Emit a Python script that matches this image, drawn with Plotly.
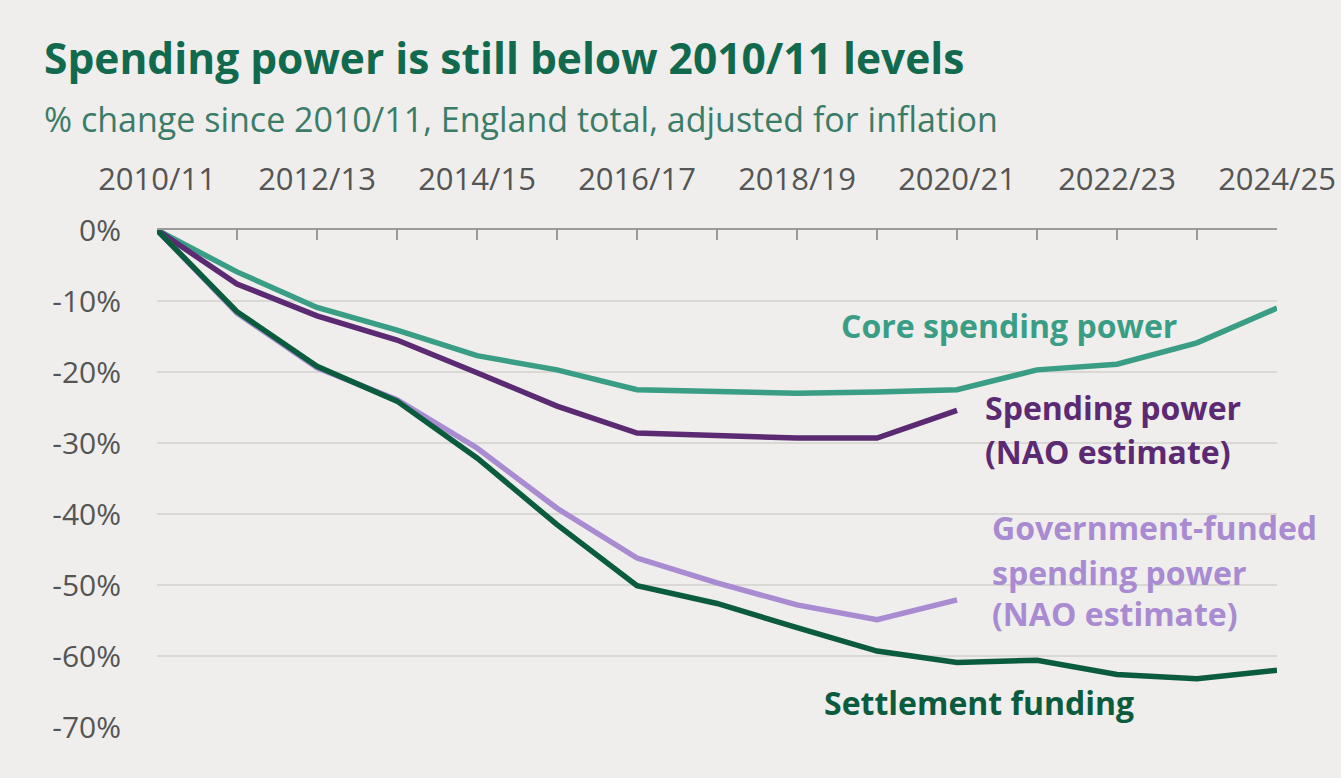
import plotly.graph_objects as go

# Financial years on the horizontal axis
years = ["2010/11", "2011/12", "2012/13", "2013/14", "2014/15", "2015/16", "2016/17",
         "2017/18", "2018/19", "2019/20", "2020/21", "2021/22", "2022/23", "2023/24", "2024/25"]

# % change since 2010/11, real terms
core_spending_power = [0, -5.9, -10.9, -14.1, -17.7, -19.7, -22.5, -22.8, -23.0, -22.8,
                       -22.5, -19.7, -18.9, -15.9, -11.0]
spending_power_nao = [0, -7.6, -12.1, -15.5, -20.1, -24.8, -28.6, -29.0, -29.3, -29.3, -25.4]
gov_funded_nao = [0, -11.7, -19.4, -23.9, -30.7, -39.2, -46.2, -49.7, -52.8, -54.9, -52.1]
settlement_funding = [0, -11.5, -19.2, -24.1, -32.1, -41.5, -50.1, -52.6, -56.0, -59.3,
                      -60.9, -60.6, -62.6, -63.2, -62.0]

y_ticks = [0, -10, -20, -30, -40, -50, -60, -70]

C_CORE = "#3a9d85"
C_NAO = "#5b2a72"
C_GOV = "#a98bd2"
C_SETTLE = "#0b5c3f"
BG = "#efeeec"
FONT = "Open Sans"

idx = list(range(len(years)))

fig = go.Figure()
for vals, col in [(core_spending_power, C_CORE), (spending_power_nao, C_NAO),
                  (gov_funded_nao, C_GOV), (settlement_funding, C_SETTLE)]:
    fig.add_trace(go.Scatter(
        x=idx[:len(vals)], y=vals, mode="lines",
        line=dict(color=col, width=5.5), cliponaxis=False, showlegend=False,
    ))

series_labels = [
    ("Core spending power", 10.65, -13.4, "center", C_CORE),
    ("Spending power", 10.33, -25.0, "left", C_NAO),
    ("(NAO estimate)", 10.33, -31.2, "left", C_NAO),
    ("Government-funded", 10.41, -41.9, "left", C_GOV),
    ("spending power", 10.41, -48.2, "left", C_GOV),
    ("(NAO estimate)", 10.41, -54.0, "left", C_GOV),
    ("Settlement funding", 10.28, -66.6, "center", C_SETTLE),
]
for text, x, y, anchor, col in series_labels:
    fig.add_annotation(x=x, y=y, xref="x", yref="y", text=f"<b>{text}</b>",
                       showarrow=False, xanchor=anchor, yanchor="middle",
                       font=dict(family=FONT, size=32, color=col))

# Title and subtitle
fig.add_annotation(x=-0.1027, y=1.347, xref="paper", yref="paper",
                   text="<b>Spending power is still below 2010/11 levels</b>",
                   showarrow=False, xanchor="left", yanchor="middle",
                   font=dict(family=FONT, size=42.5, color="#116a4d"))
fig.add_annotation(x=-0.1027, y=1.2234, xref="paper", yref="paper",
                   text="% change since 2010/11, England total, adjusted for inflation",
                   showarrow=False, xanchor="left", yanchor="middle",
                   font=dict(family=FONT, size=34, color="#3b7c69"))

fig.update_layout(
    width=1341, height=778,
    margin=dict(l=157, r=64, t=230, b=51),
    paper_bgcolor=BG, plot_bgcolor=BG,
    xaxis=dict(
        side="top", range=[0, 14], tickmode="array", tickvals=idx,
        ticktext=[y if i % 2 == 0 else "" for i, y in enumerate(years)],
        ticks="inside", ticklen=10, tickwidth=2, tickcolor="#9a9a9a",
        showline=True, linecolor="#9a9a9a", linewidth=2, mirror=False,
        showgrid=False, zeroline=False, automargin=False,
        tickfont=dict(family=FONT, size=31, color="#555555"),
        ticklabelstandoff=26,
    ),
    yaxis=dict(
        range=[-70, 0], tickmode="array", tickvals=y_ticks,
        ticktext=[f"{v}%" for v in y_ticks],
        showgrid=True, gridcolor="#dad8d5", gridwidth=2, zeroline=False,
        showline=False, ticks="", automargin=False,
        tickfont=dict(family=FONT, size=30, color="#555555"),
        ticklabelstandoff=35,
    ),
)

fig.write_html("out.html")
